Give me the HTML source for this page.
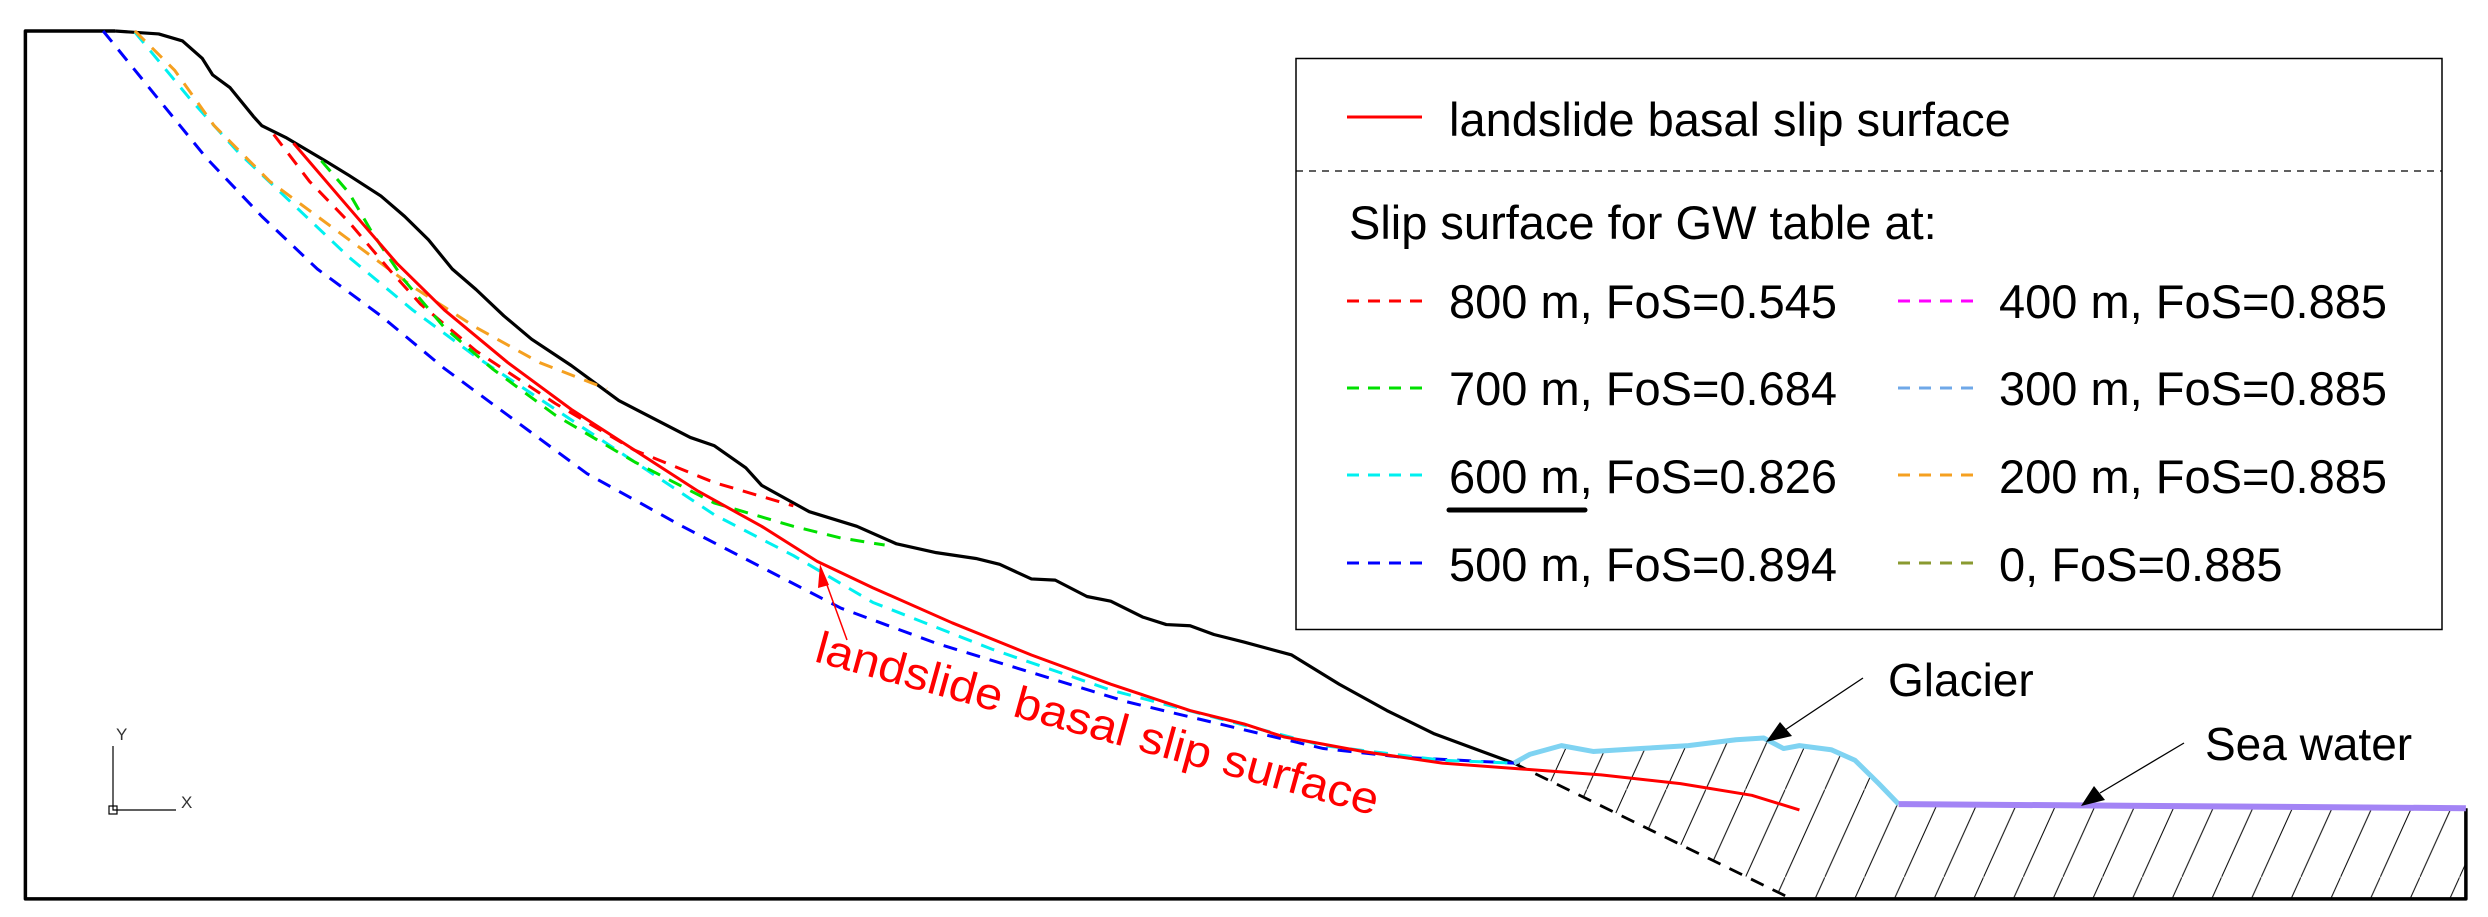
<!DOCTYPE html>
<html><head><meta charset="utf-8"><style>
html,body{margin:0;padding:0;background:#fff;}
svg{display:block;}
text{font-family:"Liberation Sans",Arial,sans-serif;}
</style></head><body>
<svg width="2488" height="917" viewBox="0 0 2488 917" xmlns="http://www.w3.org/2000/svg">
<defs>
<pattern id="hatch" patternUnits="userSpaceOnUse" width="50" height="150">
<line x1="0" y1="150" x2="50" y2="0" stroke="#000" stroke-width="1.3" vector-effect="non-scaling-stroke"/>
</pattern>
</defs>
<g transform="scale(0.7934,0.5848)" fill="none" stroke-linejoin="round">
<path d="M1908,1305 L1928,1290 1968,1275 2008,1285 2068,1280 2128,1275 2188,1265 2223,1262 2248,1280 2268,1275 2308,1282 2338,1300 2368,1340 2393,1375 3108,1382 3108,1537 2258,1537 Z" fill="url(#hatch)" stroke="none"/>
<path d="M145,53 L32,53 32,1537 3108,1537 3108,1382" stroke="#000" stroke-width="3.5" vector-effect="non-scaling-stroke"/>
<path d="M145,53 L200,58 230,70 255,100 268,128 290,150 320,200 330,215 360,235 410,275 440,300 480,335 510,370 540,410 570,460 600,495 635,540 670,580 720,625 780,685 830,720 870,748 900,762 940,800 960,830 1020,875 1080,900 1130,930 1180,945 1230,955 1260,965 1300,990 1330,992 1370,1020 1400,1028 1440,1055 1470,1068 1500,1070 1530,1085 1568,1098 1628,1120 1688,1170 1748,1215 1808,1255 1868,1285 1908,1305" stroke="#000" stroke-width="3.2" vector-effect="non-scaling-stroke"/>
<path d="M1908,1305 L2258,1537" stroke="#000" stroke-width="2.8" stroke-dasharray="14,10" vector-effect="non-scaling-stroke"/>
<path d="M1908,1305 L1928,1290 1968,1275 2008,1285 2068,1280 2128,1275 2188,1265 2223,1262 2248,1280 2268,1275 2308,1282 2338,1300 2368,1340 2393,1375" stroke="#7fd3f2" stroke-width="5" vector-effect="non-scaling-stroke"/>
<path d="M2393,1375 L2700,1378 3108,1382" stroke="#a384f5" stroke-width="6" vector-effect="non-scaling-stroke"/>
<g stroke-width="3" stroke-dasharray="14,10">
<path vector-effect="non-scaling-stroke" stroke="#0000ff" d="M130,53 L200,170 260,270 330,370 400,460 480,540 560,630 640,710 740,810 860,900 960,970 1060,1040 1180,1100 1300,1150 1420,1200 1568,1248 1668,1280 1768,1295 1908,1305"/>
<path vector-effect="non-scaling-stroke" stroke="#00f0f0" d="M170,55 L240,170 300,260 370,350 440,440 520,530 600,610 700,700 800,790 900,880 1000,950 1100,1030 1250,1110 1400,1180 1568,1240 1668,1275 1818,1300 1908,1305"/>
<path vector-effect="non-scaling-stroke" stroke="#f5a020" d="M170,53 L220,120 270,215 340,310 430,400 520,490 600,560 680,620 765,665"/>
<path vector-effect="non-scaling-stroke" stroke="#ff0000" d="M345,230 L390,310 440,380 490,460 530,520 600,600 700,690 800,770 900,825 1000,865"/>
<path vector-effect="non-scaling-stroke" stroke="#00e000" d="M405,275 L440,330 470,400 510,480 560,560 620,630 700,710 800,790 900,860 1000,900 1060,920 1115,932"/>
</g>
<path d="M370,245 L430,340 500,450 560,530 640,620 720,700 800,770 880,840 960,900 1030,960 1100,1005 1200,1065 1300,1120 1400,1170 1500,1215 1568,1238 1618,1260 1718,1285 1818,1305 1918,1315 2018,1325 2118,1340 2208,1360 2268,1385" stroke="#ff0000" stroke-width="3" vector-effect="non-scaling-stroke"/>
</g>
<line x1="847" y1="640" x2="823" y2="574" stroke="#ff0000" stroke-width="1.5"/>
<polygon points="820,564 818,588 829,585" fill="#ff0000"/>
<text x="813" y="661" font-size="45" fill="#ff0000" transform="rotate(15.4 813 661)" textLength="582" lengthAdjust="spacingAndGlyphs">landslide basal slip surface</text>
<path d="M113,746 L113,810 176,810" stroke="#000" stroke-width="1.2" fill="none"/>
<rect x="109" y="806" width="8" height="8" fill="none" stroke="#000" stroke-width="1.2"/>
<text x="116" y="740" font-size="17" fill="#333">Y</text>
<text x="181" y="808" font-size="17" fill="#333">X</text>
<rect x="1296" y="58.5" width="1146" height="571" fill="#fff" stroke="#000" stroke-width="1.5"/>
<line x1="1296" y1="171" x2="2442" y2="171" stroke="#000" stroke-width="1.3" stroke-dasharray="7,6"/>
<line x1="1347" y1="117" x2="1422" y2="117" stroke="#ff0000" stroke-width="3"/>
<text x="1449" y="136" font-size="47">landslide basal slip surface</text>
<text x="1349" y="239" font-size="47">Slip surface for GW table at:</text>
<g stroke-width="3" stroke-dasharray="12,9">
<line x1="1347" y1="301" x2="1422" y2="301" stroke="#ff0000"/>
<line x1="1347" y1="388" x2="1422" y2="388" stroke="#00e000"/>
<line x1="1347" y1="475" x2="1422" y2="475" stroke="#00f0f0"/>
<line x1="1347" y1="563" x2="1422" y2="563" stroke="#0000ff"/>
<line x1="1898" y1="301" x2="1974" y2="301" stroke="#ff00ff"/>
<line x1="1898" y1="388" x2="1974" y2="388" stroke="#6fa8e8"/>
<line x1="1898" y1="475" x2="1974" y2="475" stroke="#f5a020"/>
<line x1="1898" y1="563" x2="1974" y2="563" stroke="#8a9a30"/>
</g>
<g font-size="47">
<text x="1449" y="318">800 m, FoS=0.545</text>
<text x="1449" y="405">700 m, FoS=0.684</text>
<text x="1449" y="493">600 m, FoS=0.826</text>
<text x="1449" y="581">500 m, FoS=0.894</text>
<text x="1999" y="318">400 m, FoS=0.885</text>
<text x="1999" y="405">300 m, FoS=0.885</text>
<text x="1999" y="493">200 m, FoS=0.885</text>
<text x="1999" y="581">0, FoS=0.885</text>
</g>
<line x1="1449" y1="510" x2="1585" y2="510" stroke="#000" stroke-width="5" stroke-linecap="round"/>
<text x="1888" y="696" font-size="46">Glacier</text>
<line x1="1863" y1="678" x2="1785" y2="730" stroke="#000" stroke-width="1.3"/>
<polygon points="1766,742 1780,722 1792,736" fill="#000"/>
<text x="2205" y="760" font-size="46">Sea water</text>
<line x1="2184" y1="743" x2="2100" y2="793" stroke="#000" stroke-width="1.3"/>
<polygon points="2081,806 2094,786 2105,800" fill="#000"/>
</svg>
</body></html>
